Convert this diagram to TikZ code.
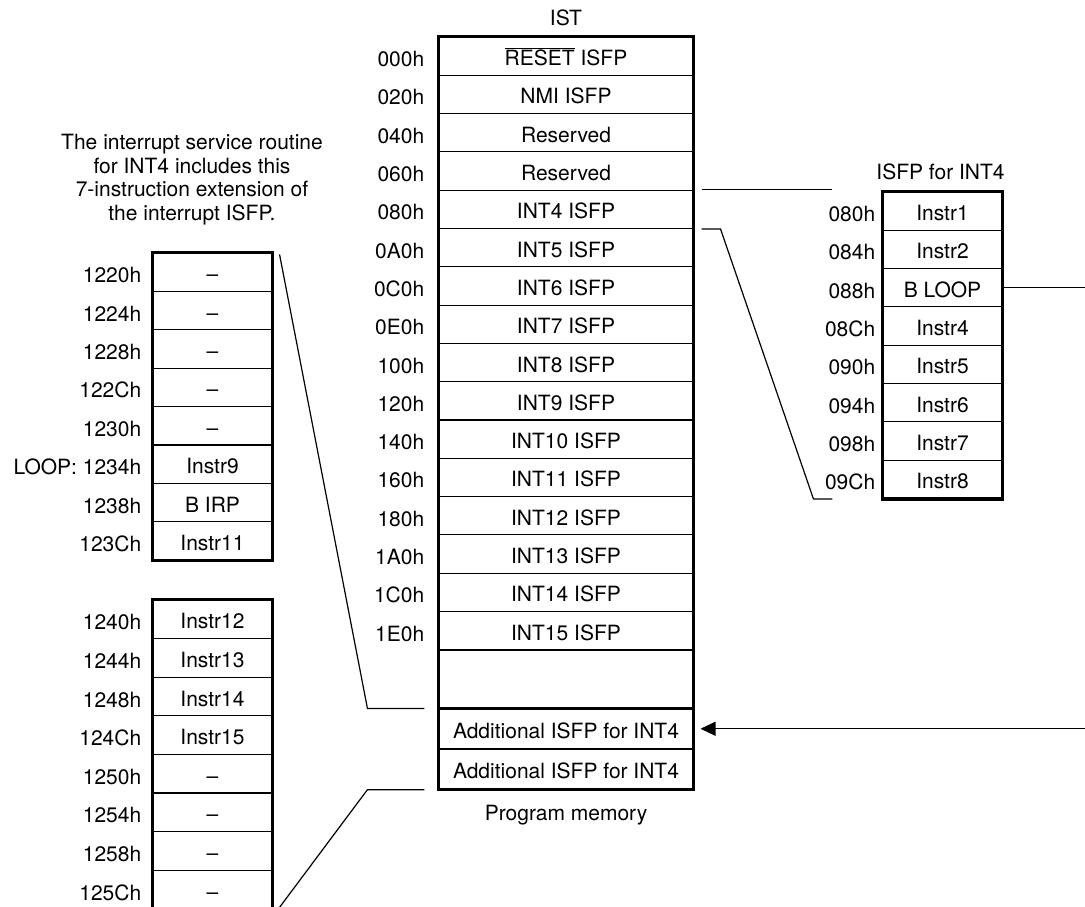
\documentclass[tikz,border=0pt]{standalone}
\usepackage{fontspec}
\setmainfont{TeX Gyre Heros}
\usetikzlibrary{arrows.meta,positioning}

\newcommand{\figfont}{\fontsize{21}{23.7}\selectfont}
\tikzset{
  cell/.style={draw, line width=1.1pt, minimum height=38.3pt, inner sep=0pt,
    text height=19pt, text depth=0pt},
  addr/.style={anchor=east, inner sep=0pt, text height=21pt, text depth=0pt},
  frame/.style={line width=3.4pt},
  link/.style={line width=1.2pt}
}

\begin{document}
\begin{tikzpicture}[x=1pt, y=-1pt, font=\figfont, >={Triangle[length=15pt,width=14pt]}]
        \useasboundingbox (0,0) rectangle (1085,906);
        \clip (0,0) rectangle (1085,906);

        % Interrupt service table in program memory
        \foreach \i/\a/\t in {0/000h/{$\overline{\mbox{RESET}}$ ISFP}, 1/020h/NMI ISFP,
            2/040h/Reserved, 3/060h/Reserved, 4/080h/INT4 ISFP, 5/0A0h/INT5 ISFP,
            6/0C0h/INT6 ISFP, 7/0E0h/INT7 ISFP, 8/100h/INT8 ISFP, 9/120h/INT9 ISFP,
            10/140h/INT10 ISFP, 11/160h/INT11 ISFP, 12/180h/INT12 ISFP,
            13/1A0h/INT13 ISFP, 14/1C0h/INT14 ISFP, 15/1E0h/INT15 ISFP} {
            \node[cell, minimum width=254pt] (ist\i) at (566, 37+38.3*\i+19.15) {\t};
            \node[addr] (istadr\i) at ([xshift=-14pt]ist\i.west) {\a};
        }
        \node[cell, minimum width=254pt, minimum height=57pt, below=0pt of ist15] (istgap) {};
        \node[cell, minimum width=254pt, minimum height=39.5pt, below=0pt of istgap] (istadd1) {Additional ISFP for INT4};
        \node[cell, minimum width=254pt, minimum height=39.5pt, below=0pt of istadd1] (istadd2) {Additional ISFP for INT4};
        \draw[frame] (ist0.north west) rectangle (istadd2.south east);
        \node (isttitle) at ([yshift=19pt]ist0.north) {IST};
        \node (istmem) at ([yshift=-25pt]istadd2.south) {Program memory};

        % ISFP for INT4
        \foreach \i/\a/\t in {0/080h/Instr1, 1/084h/Instr2, 2/088h/B LOOP, 3/08Ch/Instr4,
            4/090h/Instr5, 5/094h/Instr6, 6/098h/Instr7, 7/09Ch/Instr8} {
            \node[cell, minimum width=119pt] (isfp\i) at (942.5, 192+38.3*\i+19.15) {\t};
            \node[addr] (isfpadr\i) at ([xshift=-7pt]isfp\i.west) {\a};
        }
        \draw[frame] (isfp0.north west) rectangle (isfp7.south east);
        \node (isfptitle) at ([xshift=-2pt, yshift=20pt]isfp0.north) {ISFP for INT4};

        % Extension of the ISFP (upper part)
        \foreach \i/\a/\t in {0/1220h/\textendash, 1/1224h/\textendash, 2/1228h/\textendash,
            3/122Ch/\textendash, 4/1230h/\textendash, 5/{LOOP: 1234h}/Instr9,
            6/1238h/B IRP, 7/123Ch/Instr11} {
            \node[cell, minimum width=119pt, minimum height=38.4pt] (ext\i) at (212.5, 253+38.4*\i+19.2) {\t};
            \node[addr] (extadr\i) at ([xshift=-11pt]ext\i.west) {\a};
        }
        \draw[frame] (ext0.north west) rectangle (ext7.south east);
        \node[align=center] (note) at (192, 179.5) {The interrupt service routine\\
            for INT4 includes this\\7-instruction extension of\\the interrupt ISFP.};

        % Extension of the ISFP (lower part)
        \foreach \i/\a/\t in {0/1240h/Instr12, 1/1244h/Instr13, 2/1248h/Instr14,
            3/124Ch/Instr15, 4/1250h/\textendash, 5/1254h/\textendash,
            6/1258h/\textendash, 7/125Ch/\textendash} {
            \node[cell, minimum width=119pt, minimum height=38.6pt] (low\i) at (212.5, 600+38.6*\i+19.3) {\t};
            \node[addr] (lowadr\i) at ([xshift=-11pt]low\i.west) {\a};
        }
        \draw[frame] (low0.north west) rectangle (low7.south east);

        % Zoom lines
        \coordinate (isfpcut) at ([xshift=-50pt]isfp0.north west);
        \draw[link] ([xshift=8pt]ist4.north east) -- (isfpcut |- ist4.north east);
        \draw[link] ([xshift=8pt]ist4.south east) -- ++(19,0)
            -- ([xshift=-69pt]isfp7.south west) -- ([xshift=-50pt]isfp7.south west);
        \draw[link] ([xshift=7pt, yshift=-2pt]ext0.north east)
            -- ([xshift=-71pt]istgap.south west) -- ([xshift=-14pt]istgap.south west);
        \draw[link] ([xshift=-14pt]istadd2.south west) -- ([xshift=-71pt]istadd2.south west)
            -- ([xshift=7pt, yshift=2pt]low7.south east);

        % Branch to the additional ISFP
        \draw[link, ->] (isfp2.east) -- ++(100,0) |- ([xshift=7pt]istadd1.east);
    \end{tikzpicture}
\end{document}
